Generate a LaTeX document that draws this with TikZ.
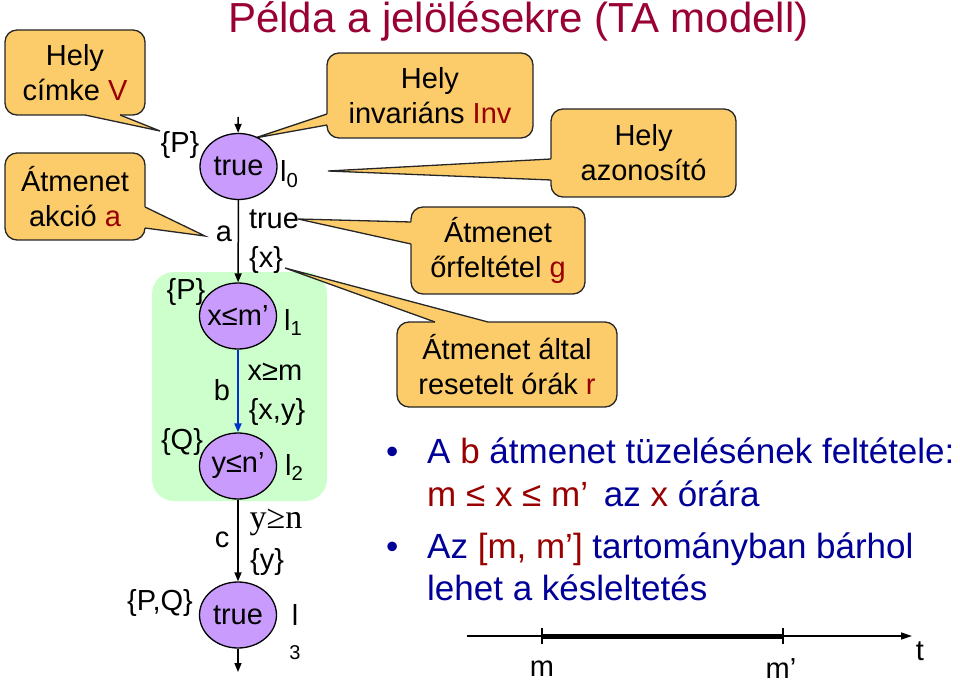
\documentclass[tikz,border=0pt]{standalone}
\usepackage{fontspec}
\setmainfont{Liberation Sans}
\newfontfamily\serifx{Liberation Serif}
\usetikzlibrary{arrows.meta,shapes.geometric}
\definecolor{callfill}{RGB}{252,204,106}
\definecolor{darkred}{RGB}{153,0,0}
\definecolor{titlecol}{RGB}{153,0,51}
\definecolor{navy}{RGB}{0,0,153}
\definecolor{statefill}{RGB}{200,155,252}
\definecolor{greenbg}{RGB}{204,255,204}
\definecolor{edgeblue}{RGB}{0,51,204}
\begin{document}
\begin{tikzpicture}[x=1pt,y=-1pt,
  callout/.style={draw=black!85, line width=1.3pt, fill=callfill, rounded corners=12pt,
    align=center, inner sep=0pt, font=\fontsize{29}{35}\selectfont},
  wedgefill/.style={fill=callfill},
  wedgeline/.style={draw=black!85, line width=1.3pt},
  locnode/.style={ellipse, draw=black, line width=1.3pt, fill=statefill,
    minimum width=77pt, minimum height=66pt, inner sep=0pt,
    label={[font=\fontsize{29}{35}\selectfont]center:#1}},
  lbl/.style={font=\fontsize{29}{35}\selectfont, inner sep=0pt},
  sublbl/.style={font=\fontsize{20}{24}\selectfont, inner sep=0pt},
  trans/.style={line width=1.5pt, -{Triangle[length=9pt,width=7pt]}},
  bul/.style={font=\fontsize{35}{42}\selectfont, text=navy, inner sep=0pt, anchor=base west},
]
\useasboundingbox (0,0) rectangle (960,684);

% title
\node[anchor=base west, inner sep=0pt, text=titlecol, font=\fontsize{42}{48}\selectfont]
  (title) at (228,33) {Példa a jelölésekre (TA modell)};

% green region
\node[fill=greenbg, rounded corners=22pt, minimum width=175pt, minimum height=229pt,
  inner sep=0pt] (grn) at (239.5,386.5) {};

% callout boxes
\node[callout, minimum width=140pt, minimum height=85pt] (c1) at (75,72.5)
  {Hely\\címke \textcolor{darkred}{V}};
\node[callout, minimum width=140pt, minimum height=87pt] (c2) at (75,196.5)
  {Átmenet\\akció \textcolor{darkred}{a}};
\node[callout, minimum width=206pt, minimum height=85pt] (c3) at (430,95.5)
  {Hely\\invariáns \textcolor{darkred}{Inv}};
\node[callout, minimum width=185pt, minimum height=88pt] (c4) at (643.5,153)
  {Hely\\azonosító};
\node[callout, minimum width=174pt, minimum height=87pt] (c5) at (498,250.5)
  {Átmenet\\őrfeltétel \textcolor{darkred}{g}};
\node[callout, minimum width=220pt, minimum height=85pt] (c6) at (507,364.5)
  {Átmenet által\\resetelt órák \textcolor{darkred}{r}};

% wedge tips
\coordinate (t1) at (160,131);
\coordinate (t2) at (205,236);
\coordinate (t3) at (255,138);
\coordinate (t4) at (328,171);
\coordinate (t5) at (298,219);
\coordinate (t6) at (285,268);

% wedges
\fill[wedgefill] (85,111) -- (120,111) -- (120,115) -- (t1) -- (85,115) -- cycle;
\draw[wedgeline] (85,115) -- (t1) -- (120,115);
\fill[wedgefill] (141,207) -- (141,228) -- (145,228) -- (t2) -- (145,207) -- cycle;
\draw[wedgeline] (145,207) -- (t2) -- (145,228);
\fill[wedgefill] (331,114) -- (331,125) -- (327,125) -- (t3) -- (327,114) -- cycle;
\draw[wedgeline] (327,114) -- (t3) -- (327,125);
\fill[wedgefill] (555,159) -- (555,180) -- (551,180) -- (t4) -- (551,159) -- cycle;
\draw[wedgeline] (551,159) -- (t4) -- (551,180);
\fill[wedgefill] (415,222) -- (415,244) -- (411,244) -- (t5) -- (411,222) -- cycle;
\draw[wedgeline] (411,222) -- (t5) -- (411,244);
\fill[wedgefill] (435,326) -- (488,326) -- (488,322) -- (t6) -- (435,322) -- cycle;
\draw[wedgeline] (435,322) -- (t6) -- (488,322);

% locations
\node[locnode={true}] (l0) at (238.5,166.5) {};
\node[locnode={x≤m’}] (l1) at (238,316) {};
\node[locnode={y≤n’}] (l2) at (238,466) {};
\node[locnode={true}] (l3) at (238,615) {};

\coordinate (init) at (238,117);
\coordinate (fin) at (238,672);

\draw[trans] (init) -- (l0);
\draw[trans] (l0) -- (l1);
\draw[trans, draw=edgeblue, fill=edgeblue, line width=2.2pt] (l1) -- (l2);
\draw[trans] (l2) -- (l3);
\draw[trans] (l3) -- (fin);

% labels
\node[lbl] (p0) at (180,145) {\{P\}};
\node[lbl, anchor=base west] (n0) at (280,182) {l\textsubscript{0}};
\node[lbl] (ea) at (224,234) {a};
\node[lbl] (ga) at (274,219) {true};
\node[lbl] (ra) at (266,260) {\{x\}};

\node[lbl] (p1) at (186,292) {\{P\}};
\node[lbl, anchor=base west] (n1) at (284,330) {l\textsubscript{1}};
\node[lbl] (eb) at (222,390) {b};
\node[lbl] (gb) at (275,372) {x≥m};
\node[lbl] (rb) at (277,412) {\{x,y\}};

\node[lbl] (p2) at (182,442) {\{Q\}};
\node[lbl, anchor=base west] (n2) at (285,475) {l\textsubscript{2}};
\node[lbl] (ec) at (222,540) {c};
\node[inner sep=0pt, font=\serifx\fontsize{34}{40}\selectfont] (gc) at (276,522) {y≥n};
\node[lbl] (rc) at (267,562) {\{y\}};

\node[lbl] (p3) at (160,603) {\{P,Q\}};
\node[lbl, anchor=base] (n3) at (295,625) {l};
\node[sublbl] (n3s) at (295,653) {3};

% bullets
\node[bul] (b1) at (386,463) {•};
\node[bul] (s1) at (427,463) {A \textcolor{darkred}{b} átmenet tüzelésének feltétele:};
\node[bul] (s2) at (427,506) {\textcolor{darkred}{m ≤ x ≤ m’}\hspace{0.45em}az \textcolor{darkred}{x} órára};
\node[bul] (b2) at (386,558) {•};
\node[bul] (s3) at (427,558) {Az \textcolor{darkred}{[m, m’]} tartományban bárhol};
\node[bul] (s4) at (427,600) {lehet a késleltetés};

% timeline
\coordinate (ax0) at (467,636);
\coordinate (ax1) at (912,636);
\coordinate (tm) at (542,636);
\coordinate (tmp) at (783,636);
\draw[line width=1.3pt, -{Triangle[length=11pt,width=7pt]}] (ax0) -- (ax1);
\draw[line width=5pt] (tm) -- (tmp);
\draw[line width=1.3pt] ([yshift=-8pt]tm) -- ([yshift=8pt]tm);
\draw[line width=1.3pt] ([yshift=-8pt]tmp) -- ([yshift=8pt]tmp);
\node[lbl] (lm) at (542,669) {m};
\node[lbl] (lmp) at (781,669) {m’};
\node[lbl] (lt) at (920,651) {t};
\end{tikzpicture}
\end{document}
